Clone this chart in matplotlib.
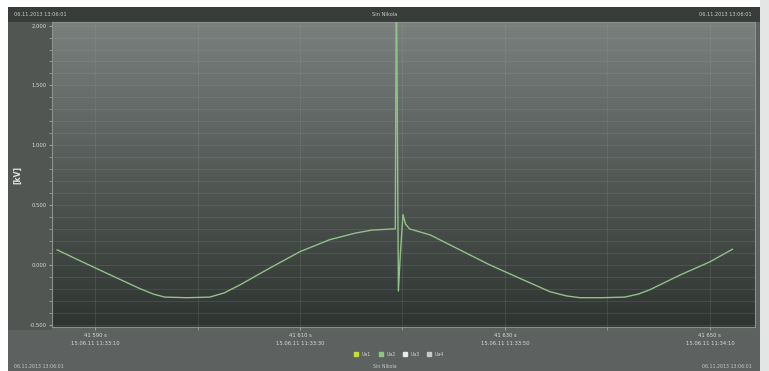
import numpy as np
import matplotlib.pyplot as plt
from matplotlib.patches import Rectangle
from matplotlib.colors import LinearSegmentedColormap

# time axis in seconds of day, voltage in kV
t_s = [41586.3, 41588.5, 41591.5, 41594.4, 41595.7, 41596.8, 41599.0, 41601.2,
       41602.6, 41604.1, 41607.1, 41610.0, 41612.9, 41615.4, 41617.0, 41619.1,
       41619.3, 41619.4, 41619.6, 41619.8, 41620.05, 41620.3, 41620.7, 41622.7,
       41625.6, 41628.5, 41631.5, 41634.4, 41636.0, 41637.3, 41639.5, 41641.7,
       41643.0, 41644.1, 41647.1, 41650.0, 41652.2]
u_kv = [0.125, 0.035, -0.085, -0.20, -0.245, -0.27, -0.275, -0.27,
        -0.235, -0.17, -0.025, 0.11, 0.21, 0.265, 0.29, 0.30,
        0.30, 2.60, -0.22, 0.10, 0.42, 0.34, 0.30, 0.25,
        0.125, 0.0, -0.115, -0.225, -0.26, -0.275, -0.275, -0.27,
        -0.245, -0.21, -0.085, 0.025, 0.13]

x_ticks = [41590, 41610, 41630, 41650]
x_tick_labels = ["41 590 s\n15.06.11 11:33:10", "41 610 s\n15.06.11 11:33:30",
                 "41 630 s\n15.06.11 11:33:50", "41 650 s\n15.06.11 11:34:10"]
y_ticks = [-0.5, 0.0, 0.5, 1.0, 1.5, 2.0]
y_tick_labels = ["-0.500", "0.000", "0.500", "1.000", "1.500", "2.000"]
legend_names = ["Ua1", "Ua2", "Ua3", "Ua4"]
legend_colors = ["#c6dc3c", "#8ec784", "#e8ece8", "#c8ccc8"]

W, H = 769, 371
fig = plt.figure(figsize=(W / 100, H / 100), dpi=100)
fig.patch.set_facecolor("white")

def px(x0, y0, w, h):
    # pixel box (top-left origin) -> figure fraction
    return [x0 / W, 1 - (y0 + h) / H, w / W, h / H]

# outer frame and header bar, kept behind the axes
fig.patches.append(Rectangle((8 / W, 0), 752 / W, 1 - 7 / H, transform=fig.transFigure,
                             facecolor="#5d6260", edgecolor="none", zorder=-3))
fig.patches.append(Rectangle((8 / W, 1 - 330 / H), 44 / W, 308 / H, transform=fig.transFigure,
                             facecolor="#515653", edgecolor="none", zorder=-2))
fig.patches.append(Rectangle((8 / W, 1 - 22 / H), 752 / W, 15 / H, transform=fig.transFigure,
                             facecolor="#393d3a", edgecolor="none", zorder=-2))
fig.patches.append(Rectangle((760 / W, 0), 9 / W, 1, transform=fig.transFigure,
                             facecolor="#e4e6e5", edgecolor="none", zorder=-3))

hdr_y = 1 - 14.5 / H
fs = 3.6
fig.text(14 / W, hdr_y, "06.11.2013 13:06:01", color="#c9cec9", fontsize=fs, va="center")
fig.text(385 / W, hdr_y, "Sin Nikola", color="#c9cec9", fontsize=fs, va="center", ha="center")
fig.text(752 / W, hdr_y, "06.11.2013 13:06:01", color="#c9cec9", fontsize=fs, va="center", ha="right")

ax = fig.add_axes(px(52, 22, 703, 305))
ax.set_xlim(41585.8, 41654.4)
ax.set_ylim(-0.52, 2.03)

# vertical gradient background
cmap = LinearSegmentedColormap.from_list("bg", ["#2e3430", "#79807d"])
grad = np.linspace(0, 1, 256).reshape(-1, 1)
ax.imshow(grad, cmap=cmap, aspect="auto", origin="lower",
          extent=[41585.8, 41654.4, -0.52, 2.03], zorder=0)

ax.set_xticks(x_ticks)
ax.set_xticks([41600, 41620, 41640], minor=True)
ax.set_xticklabels(x_tick_labels, fontsize=3.8, color="#d8dcd8", linespacing=1.9)
ax.set_yticks(y_ticks)
ax.set_yticks(np.arange(-0.5, 2.01, 0.1), minor=True)
ax.set_yticklabels(y_tick_labels, fontsize=3.8, color="#d8dcd8")
ax.grid(which="both", color="#a6ada9", alpha=0.18, linewidth=0.6)
ax.tick_params(which="both", length=2, color="#9aa09c", pad=2)
for s in ax.spines.values():
    s.set_color("#8b918d")
    s.set_linewidth(0.8)

ax.plot(t_s, u_kv, color="#92c08a", linewidth=1.0, zorder=3)
ax.set_ylabel("[kV]", fontsize=5.5, color="#e0e4e0", fontweight="bold", labelpad=5)

# legend under the axis
handles = [plt.Line2D([], [], marker="s", linestyle="none", markersize=3,
                      color=c) for c in legend_colors]
fig.legend(handles, legend_names, loc="center", bbox_to_anchor=(398 / W, 1 - 354 / H),
           ncol=4, frameon=False, fontsize=3.4, labelcolor="#cfd3cf",
           handletextpad=0.2, columnspacing=1.0)

foot_y = 1 - 366 / H
fig.text(14 / W, foot_y, "06.11.2013 13:06:01", color="#c5cac5", fontsize=3.4, va="center")
fig.text(385 / W, foot_y, "Sin Nikola", color="#c5cac5", fontsize=3.4, va="center", ha="center")
fig.text(752 / W, foot_y, "06.11.2013 13:06:01", color="#c5cac5", fontsize=3.4, va="center", ha="right")

fig.savefig("out.png", dpi=100, facecolor=fig.get_facecolor())
